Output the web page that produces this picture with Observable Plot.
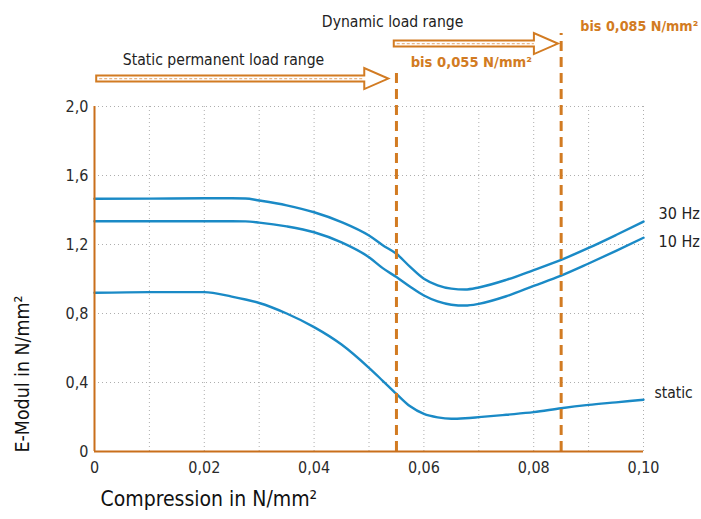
<!DOCTYPE html>
<html>
<head>
<meta charset="utf-8">
<script src="https://cdn.jsdelivr.net/npm/d3@7"></script>
<script src="https://cdn.jsdelivr.net/npm/@observablehq/plot@0.6"></script>
<style>
  html, body { margin: 0; padding: 0; background: #fff; }
  #chart svg { display: block; }
</style>
</head>
<body>
<div id="chart"></div>
<script>
// ---- data ----
const compression = [0, 0.01, 0.02, 0.025, 0.0275, 0.03, 0.035, 0.04, 0.045, 0.05, 0.0525, 0.055, 0.0575, 0.06, 0.0625, 0.065, 0.0675, 0.07, 0.075, 0.08, 0.085, 0.09, 0.095, 0.10];
const hz30   = [1.465, 1.466, 1.468, 1.468, 1.467, 1.455, 1.427, 1.387, 1.330, 1.252, 1.196, 1.146, 1.070, 1.001, 0.963, 0.944, 0.939, 0.951, 0.995, 1.052, 1.111, 1.180, 1.255, 1.333];
const hz10   = [1.335, 1.335, 1.335, 1.335, 1.334, 1.327, 1.305, 1.271, 1.212, 1.126, 1.063, 1.011, 0.955, 0.904, 0.870, 0.851, 0.846, 0.856, 0.900, 0.960, 1.020, 1.090, 1.163, 1.239];
const stat   = [0.920, 0.924, 0.924, 0.898, 0.881, 0.861, 0.800, 0.721, 0.620, 0.485, 0.410, 0.334, 0.262, 0.218, 0.198, 0.190, 0.193, 0.199, 0.213, 0.228, 0.251, 0.270, 0.285, 0.300];
const seriesNames = ["30 Hz", "10 Hz", "static"];

const xTicks = [0, 0.02, 0.04, 0.06, 0.08, 0.10];
const xGrid  = [0.01, 0.02, 0.03, 0.04, 0.05, 0.06, 0.07, 0.08, 0.09, 0.10];
const yTicks = [0, 0.4, 0.8, 1.2, 1.6, 2.0];

// load range limits (N/mm²)
const rangeLimits = [0.055, 0.085];
const rangeLabels = ["bis 0,055 N/mm²", "bis 0,085 N/mm²"];
const rangeNames  = ["Static permanent load range", "Dynamic load range"];
const arrowFrom   = [0.0004, 0.0546];
const arrowTo     = [0.0536, 0.0845];
const arrowLevel  = [2.159, 2.362];
const rangeTop    = [2.22, 2.423];

// ---- build table ----
const rows = [];
[hz30, hz10, stat].forEach((vals, s) => {
  compression.forEach((c, i) => rows.push({series: seriesNames[s], x: c, y: vals[i]}));
});
const ends = seriesNames.map((n, s) => ({series: n, x: compression[compression.length - 1], y: [hz30, hz10, stat][s][compression.length - 1]}));
const arrows = arrowFrom.map((a, i) => ({x1: a, x2: arrowTo[i], y: arrowLevel[i]}));
const limits = rangeLimits.map((x, i) => ({x, top: rangeTop[i]}));

const ORANGE = "#d27b22";
const AXIS = "#c96f1b";
const BLUE = "#1a8ac6";
const FONT = "'DejaVu Sans Condensed', 'DejaVu Sans', sans-serif";
const fmt = d => d === 0 ? "0" : String(d.toFixed(2)).replace(".", ",");
const fmtY = d => d === 0 ? "0" : d.toFixed(1).replace(".", ",");

function arrowMark(index, scales) {
  const g = d3.create("svg:g");
  const sx = scales.x, sy = scales.y;
  const sh = 3, hh = 10.5, hl = 24;
  for (const a of arrows) {
    const x0 = sx(a.x1), x1 = sx(a.x2), yc = sy(a.y);
    const d = `M${x0},${yc - sh}L${x1 - hl},${yc - sh}L${x1 - hl},${yc - hh}L${x1},${yc}L${x1 - hl},${yc + hh}L${x1 - hl},${yc + sh}L${x0},${yc + sh}Z`;
    g.append("path").attr("d", d).attr("fill", "#fff").attr("stroke", ORANGE).attr("stroke-width", 2).attr("stroke-linejoin", "miter");
    g.append("line").attr("x1", x0 + 3).attr("x2", x1 - hl).attr("y1", yc).attr("y2", yc)
      .attr("stroke", "#e9b585").attr("stroke-width", 1.2).attr("stroke-dasharray", "3,2");
  }
  return g.node();
}

const chart = Plot.plot({
  width: 701,
  height: 519,
  marginLeft: 94,
  marginRight: 58,
  marginTop: 106,
  marginBottom: 68,
  style: {fontFamily: FONT, fontSize: "16px", color: "#2a2a2a", background: "#fff"},
  x: {domain: [0, 0.10]},
  y: {domain: [0, 2.0]},
  marks: [
    Plot.gridX(xGrid, {stroke: "#9a9a9a", strokeOpacity: 0.8, strokeDasharray: "1,3", strokeWidth: 1}),
    Plot.gridY(yTicks.filter(d => d > 0), {stroke: "#9a9a9a", strokeOpacity: 0.8, strokeDasharray: "1,3", strokeWidth: 1}),
    Plot.axisX(xTicks, {tickFormat: fmt, tickSize: 0, tickPadding: 10, label: null, fontSize: 16}),
    Plot.axisY(yTicks, {tickFormat: fmtY, tickSize: 0, tickPadding: 6, label: null, fontSize: 16}),
    Plot.line(rows, {x: "x", y: "y", z: "series", stroke: BLUE, strokeWidth: 2.4, curve: "monotone-x"}),
    Plot.ruleX(limits, {x: "x", y1: 0, y2: "top", stroke: ORANGE, strokeWidth: 3, strokeDasharray: "10,6"}),
    Plot.ruleX([0], {stroke: AXIS, strokeWidth: 2}),
    Plot.ruleY([0], {stroke: AXIS, strokeWidth: 2}),
    arrowMark,
    // range names
    Plot.text([rangeNames[0]], {x: 0.0235, y: 2.272, text: d => d, fill: "#222", fontSize: 15.6}),
    Plot.text([rangeNames[1]], {x: 0.0543, y: 2.487, text: d => d, fill: "#222", fontSize: 15.6}),
    Plot.text([rangeLabels[0]], {x: 0.0576, y: 2.255, text: d => d, textAnchor: "start", fill: ORANGE, fontWeight: "bold", fontSize: 14.6}),
    Plot.text([rangeLabels[1]], {x: 0.0885, y: 2.464, text: d => d, textAnchor: "start", fill: ORANGE, fontWeight: "bold", fontSize: 14.2}),
    // series labels
    Plot.text([ends[0]], {x: "x", y: "y", text: "series", textAnchor: "start", dx: 15, dy: -8, fill: "#222", fontSize: 16}),
    Plot.text([ends[1]], {x: "x", y: "y", text: "series", textAnchor: "start", dx: 15, dy: 4, fill: "#222", fontSize: 16}),
    Plot.text([ends[2]], {x: "x", y: "y", text: "series", textAnchor: "start", dx: 11, dy: -7, fill: "#222", fontSize: 15.5}),
    // axis titles
    Plot.text(["Compression in N/mm²"], {frameAnchor: "bottom-left", text: d => d, textAnchor: "start", dx: 6, dy: 54, fill: "#111", fontSize: 21}),
    Plot.text(["E-Modul in N/mm²"], {frameAnchor: "left", text: d => d, rotate: -90, textAnchor: "middle", dx: -72, dy: 95, fill: "#111", fontSize: 19.4})
  ]
});
document.getElementById("chart").appendChild(chart);
</script>
</body>
</html>
